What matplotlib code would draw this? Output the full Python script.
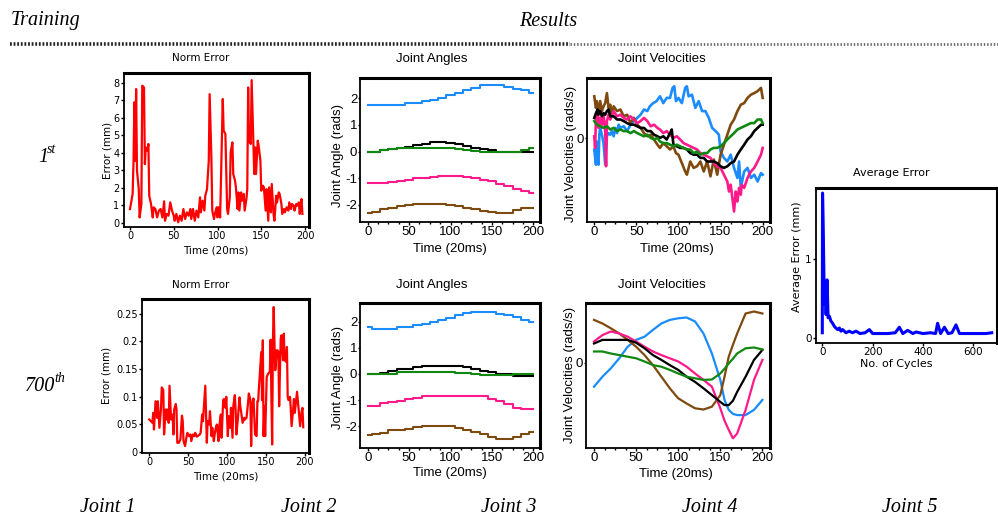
import matplotlib.pyplot as plt
from matplotlib.lines import Line2D
from matplotlib.ticker import MultipleLocator

plt.rcParams['font.family'] = 'Liberation Sans'
plt.rcParams['axes.unicode_minus'] = False

# ---------------- data ----------------
# 1st training cycle: norm error (mm) against time (20ms steps)
err1_t = [0, 3, 4, 5, 6, 7, 8, 10, 11, 13,
          14, 16, 17, 18, 20, 21, 22, 24, 26, 27,
          29, 31, 33, 35, 37, 39, 40, 42, 44, 46,
          48, 50, 51, 53, 55, 57, 59, 61, 63, 65,
          67, 69, 70, 72, 74, 76, 78, 80, 81, 83,
          85, 86, 88, 90, 91, 93, 94, 96, 97, 99,
          100, 101, 103, 105, 106, 107, 109, 111, 112, 114,
          115, 117, 118, 120, 121, 123, 124, 125, 127, 128,
          130, 131, 133, 134, 135, 136, 138, 139, 141, 142,
          143, 144, 146, 147, 149, 150, 152, 153, 155, 156,
          158, 159, 161, 162, 164, 165, 167, 168, 170, 171,
          173, 174, 176, 177, 179, 181, 182, 184, 185, 187,
          188, 190, 191, 193, 194, 195, 196, 197]
err1 = [0.78, 1.64, 3.45, 6.88, 3.54, 7.64, 2.97, 1.92, 0.30, 1.07,
        7.83, 7.73, 3.35, 4.30, 4.11, 4.50, 1.54, 1.07, 0.30, 0.88,
        0.78, 0.30, 0.69, 0.78, 0.30, 1.22, 0.11, 0.50, 0.40, 1.16,
        0.69, 0.40, 0.11, 0.50, 0.02, 0.40, 0.11, 0.78, 0.21, 0.59,
        0.40, 0.78, 0.21, 0.78, 0.11, 0.69, 0.30, 1.45, 0.59, 1.26,
        0.69, 1.54, 1.92, 3.54, 7.35, 3.73, 0.69, 0.21, 0.50, 0.88,
        0.30, 0.88, 0.30, 4.69, 7.07, 5.26, 5.07, 0.78, 0.50, 1.45,
        4.02, 4.59, 2.78, 2.40, 2.02, 0.78, 1.73, 0.69, 1.73, 1.26,
        1.64, 0.69, 1.35, 1.92, 7.73, 4.69, 4.50, 8.15, 4.69, 2.78,
        4.30, 2.78, 4.69, 4.40, 3.54, 1.83, 2.11, 2.02, 0.69, 1.92,
        0.11, 2.02, 0.59, 2.21, 0.50, 0.11, 1.54, 1.16, 1.73, 1.64,
        1.07, 0.50, 0.78, 0.59, 0.88, 0.69, 1.16, 0.78, 1.07, 0.97,
        0.69, 1.07, 0.97, 1.16, 0.50, 1.07, 1.35, 0.50]

# 700th training cycle: norm error (mm)
err2_t = [0, 2, 4, 5, 6, 8, 10, 11, 13, 15,
          16, 18, 19, 21, 22, 23, 25, 26, 28, 30,
          31, 32, 34, 35, 36, 38, 40, 42, 43, 44,
          46, 48, 49, 51, 53, 54, 56, 58, 59, 61,
          63, 65, 66, 68, 69, 72, 74, 75, 77, 78,
          80, 81, 83, 84, 86, 87, 89, 90, 92, 93,
          95, 96, 98, 99, 101, 102, 104, 105, 107, 108,
          110, 111, 112, 114, 116, 117, 118, 120, 122, 123,
          125, 127, 128, 130, 131, 132, 134, 135, 136, 138,
          139, 140, 141, 144, 145, 146, 147, 148, 149, 150,
          151, 153, 155, 156, 157, 158, 159, 160, 161, 162,
          164, 165, 166, 167, 169, 170, 172, 173, 174, 176,
          177, 178, 179, 181, 182, 183, 185, 186, 187, 188,
          190, 191, 192, 194, 196, 197, 198]
err2 = [0.059, 0.056, 0.053, 0.071, 0.041, 0.092, 0.062, 0.092, 0.044, 0.077,
        0.117, 0.112, 0.032, 0.077, 0.059, 0.077, 0.053, 0.120, 0.059, 0.068,
        0.032, 0.077, 0.087, 0.077, 0.017, 0.017, 0.023, 0.066, 0.056, 0.020,
        0.011, 0.029, 0.035, 0.029, 0.032, 0.020, 0.032, 0.029, 0.035, 0.028,
        0.030, 0.032, 0.035, 0.068, 0.056, 0.120, 0.017, 0.056, 0.050, 0.074,
        0.029, 0.044, 0.020, 0.032, 0.047, 0.050, 0.020, 0.047, 0.068, 0.026,
        0.094, 0.096, 0.080, 0.100, 0.029, 0.065, 0.044, 0.080, 0.026, 0.083,
        0.103, 0.077, 0.032, 0.062, 0.099, 0.083, 0.074, 0.053, 0.062, 0.059,
        0.062, 0.089, 0.106, 0.094, 0.011, 0.083, 0.097, 0.065, 0.032, 0.029,
        0.092, 0.092, 0.117, 0.181, 0.094, 0.202, 0.029, 0.083, 0.029, 0.083,
        0.136, 0.142, 0.145, 0.203, 0.100, 0.014, 0.202, 0.262, 0.196, 0.148,
        0.184, 0.184, 0.181, 0.083, 0.205, 0.211, 0.166, 0.214, 0.166, 0.163,
        0.190, 0.100, 0.094, 0.100, 0.077, 0.047, 0.077, 0.096, 0.071, 0.083,
        0.109, 0.094, 0.080, 0.047, 0.074, 0.080, 0.045]

# joint angles (rads), sampled every 10 steps
ang_t = [0, 10, 20, 30, 40, 50, 60, 70, 80, 90, 100,
         110, 120, 130, 140, 150, 160, 170, 180, 190, 200]
ang1_blue = [1.74, 1.74, 1.74, 1.74, 1.76, 1.82, 1.84, 1.88, 1.94, 2.02, 2.12,
             2.20, 2.30, 2.38, 2.48, 2.50, 2.50, 2.42, 2.36, 2.30, 2.20]
ang1_black = [0.0, 0.0, 0.05, 0.10, 0.12, 0.17, 0.24, 0.30, 0.35, 0.35, 0.33,
              0.30, 0.22, 0.15, 0.10, 0.05, 0.0, 0.0, 0.0, 0.0, 0.0]
ang1_green = [0.0, 0.0, 0.05, 0.08, 0.12, 0.12, 0.12, 0.12, 0.12, 0.12, 0.12,
              0.10, 0.05, 0.03, 0.0, 0.0, 0.0, 0.0, 0.0, 0.05, 0.12]
ang1_pink = [-1.19, -1.19, -1.19, -1.13, -1.10, -1.05, -1.0, -1.0, -0.95, -0.90, -0.90,
             -0.90, -0.95, -1.0, -1.05, -1.10, -1.20, -1.30, -1.40, -1.48, -1.56]
ang1_brown = [-2.30, -2.25, -2.15, -2.10, -2.05, -2.0, -1.97, -1.97, -1.97, -1.97, -2.0,
              -2.05, -2.10, -2.15, -2.22, -2.28, -2.30, -2.30, -2.20, -2.12, -2.10]

ang2_blue = [1.78, 1.71, 1.71, 1.72, 1.78, 1.80, 1.87, 1.90, 2.0, 2.08, 2.15,
             2.25, 2.32, 2.38, 2.38, 2.38, 2.30, 2.25, 2.18, 2.06, 2.0]
ang2_black = [0.0, 0.0, 0.05, 0.12, 0.20, 0.20, 0.25, 0.30, 0.30, 0.30, 0.30,
              0.30, 0.25, 0.20, 0.12, 0.06, 0.0, -0.02, -0.08, -0.08, -0.08]
ang2_green = [0.0, 0.0, 0.0, 0.0, 0.08, 0.08, 0.08, 0.08, 0.08, 0.08, 0.08,
              0.03, 0.02, 0.0, -0.05, -0.05, -0.05, -0.03, 0.0, 0.0, 0.0]
ang2_pink = [-1.21, -1.21, -1.12, -1.08, -1.03, -0.96, -0.90, -0.84, -0.83, -0.83, -0.83,
             -0.83, -0.83, -0.83, -0.86, -0.95, -1.05, -1.15, -1.30, -1.33, -1.35]
ang2_brown = [-2.33, -2.30, -2.25, -2.14, -2.13, -2.10, -2.02, -2.0, -2.0, -2.0, -2.0,
              -2.05, -2.14, -2.20, -2.30, -2.40, -2.48, -2.48, -2.40, -2.30, -2.20]

# joint velocities, 1st cycle (noisy)
vel1_blue_t = [0, 2, 3, 5, 6, 7, 9, 11, 13, 15, 17, 19, 21, 23, 25, 27, 29, 31, 35, 39,
               43, 47, 51, 55, 59, 63, 66, 70, 74, 78, 82, 86, 90, 93, 95, 97, 100, 104, 108, 110,
               112, 116, 120, 124, 128, 132, 136, 140, 144, 148, 150, 154, 158, 162, 166, 170, 172, 174, 178, 182,
               186, 190, 194, 198, 200]
vel1_blue = [-0.28, -0.66, -0.08, -0.66, 0.09, 0.26, 0.09, -0.12, -0.66, 0.05,
             0.13, 0.09, 0.18, 0.05, 0.26, 0.13, 0.34, 0.26, 0.30, 0.18,
             0.34, 0.43, 0.51, 0.59, 0.72, 0.68, 0.80, 0.88, 0.93, 1.05,
             0.88, 1.01, 1.01, 1.26, 1.30, 0.93, 1.01, 0.88, 1.26, 1.30,
             1.05, 1.09, 0.76, 0.93, 0.68, 0.68, 0.51, 0.26, 0.18, 0.09,
             -0.33, -0.49, -0.58, -0.41, -0.74, -0.99, -0.58, -1.24, -0.83, -0.74,
             -0.99, -0.91, -1.08, -0.87, -0.91]
vel1_brown_t = [0, 2, 3, 5, 7, 9, 11, 13, 15, 17, 19, 21, 23, 27, 31, 35, 39, 43, 47, 51,
                55, 59, 63, 67, 71, 75, 78, 82, 86, 90, 94, 97, 100, 104, 108, 110, 114, 118, 122, 126,
                130, 134, 138, 142, 146, 150, 154, 158, 162, 166, 170, 174, 178, 182, 186, 190, 194, 198, 200]
vel1_brown = [1.05, 0.76, 0.93, 0.63, 0.93, 0.68, 0.80, 0.88, 1.13, 0.76,
              0.84, 0.59, 0.80, 0.68, 0.72, 0.55, 0.59, 0.38, 0.51, 0.34,
              0.26, 0.13, 0.05, 0.09, -0.03, -0.16, -0.24, -0.12, -0.20, -0.28,
              -0.20, -0.37, -0.41, -0.62, -0.83, -0.91, -0.58, -0.74, -0.70, -0.58,
              -0.83, -0.58, -0.95, -0.53, -0.91, -0.41, -0.16, 0.09, 0.34, 0.47,
              0.68, 0.84, 0.88, 1.01, 1.09, 1.13, 1.18, 1.26, 1.01]
vel1_black_t = [0, 2, 4, 5, 7, 9, 11, 13, 15, 17, 19, 23, 27, 31, 35, 39, 43, 47, 51, 55,
                59, 63, 67, 71, 75, 78, 82, 86, 90, 92, 94, 98, 102, 106, 110, 114, 118, 122, 126, 130,
                134, 138, 142, 146, 150, 154, 158, 162, 166, 170, 174, 178, 182, 186, 190, 194, 198, 200]
vel1_black = [0.51, 0.63, 0.72, 0.59, 0.68, 0.55, 0.63, 0.59, 0.68, 0.72,
              0.55, 0.55, 0.47, 0.47, 0.43, 0.38, 0.34, 0.34, 0.30, 0.26,
              0.26, 0.18, 0.18, 0.09, 0.05, 0.01, 0.05, -0.03, 0.13, 0.22,
              -0.16, -0.20, -0.24, -0.24, -0.28, -0.37, -0.41, -0.41, -0.49, -0.49,
              -0.58, -0.58, -0.58, -0.62, -0.70, -0.74, -0.70, -0.62, -0.58, -0.41,
              -0.28, -0.16, -0.03, 0.05, 0.18, 0.26, 0.34, 0.34]
vel1_green_t = [0, 3, 7, 11, 15, 19, 23, 27, 31, 35, 39, 43, 47, 51, 55, 59, 63, 67, 71, 75,
                78, 82, 86, 90, 94, 98, 102, 106, 110, 114, 118, 122, 126, 130, 134, 138, 142, 146, 150, 154,
                158, 162, 166, 170, 174, 178, 182, 186, 190, 194, 198, 200]
vel1_green = [0.43, 0.34, 0.30, 0.26, 0.30, 0.22, 0.26, 0.18, 0.22, 0.18,
              0.18, 0.13, 0.18, 0.13, 0.09, 0.05, 0.09, 0.01, -0.03, 0.01,
              -0.08, -0.12, -0.12, -0.16, -0.20, -0.16, -0.20, -0.24, -0.28, -0.28,
              -0.37, -0.33, -0.41, -0.37, -0.37, -0.28, -0.24, -0.24, -0.20, -0.12,
              -0.03, 0.05, 0.13, 0.22, 0.26, 0.30, 0.34, 0.38, 0.38, 0.47,
              0.47, 0.38]
vel1_pink_t = [0, 1, 2, 4, 5, 7, 9, 11, 13, 14, 15, 17, 19, 23, 27, 31, 35, 39, 43, 47,
               51, 55, 59, 63, 67, 71, 75, 78, 82, 86, 90, 94, 98, 102, 106, 110, 114, 118, 122, 126,
               130, 134, 138, 142, 146, 150, 154, 158, 160, 162, 164, 166, 168, 170, 172, 174, 175, 178, 182, 186,
               190, 194, 198, 200]
vel1_pink = [0.05, -0.24, 0.51, 0.68, 0.26, 0.51, 0.34, 0.59, 0.18, -0.70,
             0.43, 0.59, 0.47, 0.68, 0.55, 0.59, 0.51, 0.47, 0.55, 0.47,
             0.38, 0.43, 0.51, 0.43, 0.30, 0.34, 0.26, 0.22, 0.13, 0.18,
             0.09, 0.01, 0.05, -0.03, -0.12, -0.16, -0.20, -0.24, -0.28, -0.37,
             -0.41, -0.45, -0.49, -0.62, -0.70, -0.74, -0.91, -1.08, -1.33, -1.16,
             -1.49, -1.83, -1.33, -1.58, -1.24, -1.41, -1.16, -1.24, -0.99, -0.83,
             -0.74, -0.58, -0.41, -0.24]

# joint velocities, 700th cycle (smooth)
vel2_t = [0, 10, 20, 30, 40, 50, 60, 70, 80, 90, 100, 110,
          120, 130, 140, 150, 155, 160, 165, 170, 180, 190, 200]
vel2_blue = [-0.60, -0.35, -0.14, 0.11, 0.40, 0.57, 0.65, 0.82, 0.98, 1.07, 1.11, 1.13,
             1.03, 0.73, 0.23, -0.43, -0.93, -1.18, -1.28, -1.31, -1.31, -1.18, -0.93]
vel2_brown = [1.07, 0.98, 0.86, 0.73, 0.57, 0.40, 0.19, -0.06, -0.35, -0.64, -0.89, -1.02,
              -1.14, -1.17, -1.10, -0.81, -0.35, 0.15, 0.45, 0.73, 1.23, 1.28, 1.23]
vel2_black = [0.48, 0.57, 0.57, 0.57, 0.57, 0.50, 0.36, 0.19, 0.07, -0.06, -0.18, -0.35,
              -0.48, -0.64, -0.81, -0.98, -1.06, -1.06, -0.95, -0.73, -0.35, 0.07, 0.32]
vel2_pink = [0.53, 0.69, 0.78, 0.73, 0.65, 0.53, 0.40, 0.28, 0.19, 0.11, 0.03, -0.10,
             -0.27, -0.43, -0.60, -1.14, -1.45, -1.68, -1.89, -1.77, -1.18, -0.43, 0.07]
vel2_green = [0.28, 0.28, 0.23, 0.19, 0.15, 0.11, 0.03, -0.06, -0.10, -0.18, -0.27, -0.35,
              -0.39, -0.43, -0.42, -0.27, -0.15, -0.02, 0.10, 0.23, 0.36, 0.38, 0.33]

# average error (mm) over training cycles
avg_cycles = [0, 1, 4, 8, 12, 15, 19, 23, 28, 34,
              41, 48, 54, 61, 68, 74, 81, 94, 107, 120,
              134, 150, 170, 187, 200, 230, 260, 290, 306, 320,
              339, 360, 372, 400, 430, 450, 458, 470, 485, 500,
              515, 531, 545, 570, 600, 630, 650, 673]
avg_err = [0.07, 1.84, 1.35, 0.43, 0.72, 0.30, 0.74, 0.26, 0.28, 0.22,
           0.19, 0.15, 0.13, 0.11, 0.13, 0.09, 0.11, 0.07, 0.09, 0.07,
           0.09, 0.06, 0.07, 0.11, 0.06, 0.06, 0.06, 0.07, 0.14, 0.06,
           0.10, 0.06, 0.08, 0.06, 0.07, 0.06, 0.19, 0.06, 0.14, 0.06,
           0.07, 0.17, 0.06, 0.06, 0.06, 0.06, 0.06, 0.07]

time_ticks = [0, 50, 100, 150, 200]
bottom_labels = ['Joint 1', 'Joint 2', 'Joint 3', 'Joint 4', 'Joint 5']

C_BLUE = '#1a8cff'
C_BLACK = '#000000'
C_GREEN = '#118811'
C_PINK = '#ff1a8c'
C_BROWN = '#7f4a0f'
C_RED = '#ff0000'

W, H = 998, 517
fig = plt.figure(figsize=(W / 100, H / 100), dpi=100)


def px_axes(x0, y0, x1, y1):
    # place an axes from pixel corners of the reference
    return fig.add_axes([x0 / W, 1 - y1 / H, (x1 - x0) / W, (y1 - y0) / H])


def frame(ax, small):
    for side in ['left', 'bottom']:
        ax.spines[side].set_linewidth(1.3)
    for side in ['top', 'right']:
        ax.spines[side].set_linewidth(2.2)
    fam = 'DejaVu Sans' if small else 'Liberation Sans'
    size = 7 if small else 9.5
    ax.tick_params(which='both', direction='out', length=2, width=1,
                   pad=1, labelsize=size, labelfontfamily=fam)
    ax.tick_params(which='minor', length=1.5)
    if not small:
        ax.tick_params(axis='y', length=1.5, pad=0.5)


def fig_text(x, y, s, **kw):
    fig.text(x / W, 1 - y / H, s, ha='center', va='center', **kw)


small_font = dict(family='DejaVu Sans', fontsize=7.5)
avg_font = dict(family='DejaVu Sans', fontsize=8)
big_font = dict(family='Liberation Sans', fontsize=9.5)
serif = dict(family='Liberation Serif', style='italic', fontsize=14.5)
sup = dict(family='Liberation Serif', style='italic', fontsize=10)

# ---------------- norm error panels ----------------
ax = px_axes(123.7, 73.3, 308.7, 226.7)
ax.plot(err1_t, err1, color=C_RED, lw=1.6)
ax.set_xlim(-7.2, 204.2)
ax.set_ylim(-0.23, 8.54)
ax.set_xticks(time_ticks)
ax.set_yticks(range(0, 9))
frame(ax, True)
ax.set_ylabel('Error (mm)', va='center', **small_font)
ax.yaxis.set_label_coords(-0.09, 0.5)
ax.set_xlabel('Time (20ms)', va='center', **small_font)
ax.xaxis.set_label_coords(0.5, -0.156)
fig_text(200.7, 58.3, 'Norm Error', **small_font)

ax = px_axes(142, 299.3, 308.7, 453.3)
ax.plot(err2_t, err2, color=C_RED, lw=1.6)
ax.set_xlim(-9.4, 205)
ax.set_ylim(-0.002, 0.276)
ax.set_xticks(time_ticks)
ax.set_yticks([0, 0.05, 0.1, 0.15, 0.2, 0.25], ['0', '0.05', '0.1', '0.15', '0.2', '0.25'])
frame(ax, True)
ax.set_ylabel('Error (mm)', va='center', **small_font)
ax.yaxis.set_label_coords(-0.21, 0.508)
ax.set_xlabel('Time (20ms)', va='center', **small_font)
ax.xaxis.set_label_coords(0.5, -0.152)
fig_text(200.7, 285, 'Norm Error', **small_font)

# ---------------- joint angle panels ----------------
for box, ylim, series, ycen, xlab_y, title_y in [
        ((360, 77.7, 540, 221.7), (-2.63, 2.77),
         [ang1_blue, ang1_black, ang1_green, ang1_pink, ang1_brown], 0.463, -0.192, 59.3),
        ((360, 303.3, 540, 448.3), (-2.84, 2.70),
         [ang2_blue, ang2_black, ang2_green, ang2_pink, ang2_brown], 0.488, -0.172, 285)]:
    ax = px_axes(*box)
    for vals, col in zip(series, [C_BLUE, C_BLACK, C_GREEN, C_PINK, C_BROWN]):
        ax.plot(ang_t, vals, color=col, lw=1.5, drawstyle='steps-mid')
    ax.set_xlim(-9.3, 208)
    ax.set_ylim(*ylim)
    ax.set_xticks(time_ticks)
    ax.xaxis.set_minor_locator(MultipleLocator(12.5))
    ax.set_yticks([-2, -1, 0, 1, 2])
    frame(ax, False)
    ax.set_ylabel('Joint Angle (rads)', va='center', **big_font)
    ax.yaxis.set_label_coords(-0.125, ycen)
    ax.set_xlabel('Time (20ms)', va='center', **big_font)
    ax.xaxis.set_label_coords(0.5, xlab_y)
    fig_text(431.7, title_y, 'Joint Angles', **big_font)

# ---------------- joint velocity panels ----------------
ax = px_axes(586.7, 77.7, 770, 221.7)
ax.plot(vel1_blue_t, vel1_blue, color=C_BLUE, lw=1.9)
ax.plot(vel1_brown_t, vel1_brown, color=C_BROWN, lw=1.9)
ax.plot(vel1_pink_t, vel1_pink, color=C_PINK, lw=1.9)
ax.plot(vel1_black_t, vel1_black, color=C_BLACK, lw=1.9)
ax.plot(vel1_green_t, vel1_green, color=C_GREEN, lw=1.9)
ax.set_xlim(-9, 208.7)
ax.set_ylim(-2.085, 1.515)
vel_axes = [(ax, 0.47, -0.192, 59.3)]

ax = px_axes(586, 303.3, 770, 448.3)
for vals, col in zip([vel2_blue, vel2_brown, vel2_pink, vel2_black, vel2_green],
                     [C_BLUE, C_BROWN, C_PINK, C_BLACK, C_GREEN]):
    ax.plot(vel2_t, vals, color=col, lw=1.6)
ax.set_xlim(-9.5, 209)
ax.set_ylim(-2.14, 1.485)
vel_axes.append((ax, 0.505, -0.177, 285))

for ax, ycen, xlab_y, title_y in vel_axes:
    ax.set_xticks(time_ticks)
    ax.xaxis.set_minor_locator(MultipleLocator(12.5))
    ax.set_yticks([0])
    frame(ax, False)
    ax.set_ylabel('Joint Velocities (rads/s)', va='center', **big_font)
    ax.yaxis.set_label_coords(-0.087, ycen)
    ax.set_xlabel('Time (20ms)', va='center', **big_font)
    ax.xaxis.set_label_coords(0.49, xlab_y)
    fig_text(661.7, title_y, 'Joint Velocities', **big_font)

# ---------------- average error panel ----------------
ax = px_axes(816, 188.3, 996.5, 342.7)
ax.plot(avg_cycles, avg_err, color='#0000ff', lw=2.2)
ax.set_xlim(-25, 692)
ax.set_ylim(-0.056, 1.9)
ax.set_xticks([0, 200, 400, 600])
ax.set_yticks([0, 1])
frame(ax, True)
ax.tick_params(labelsize=7.5)
ax.set_ylabel('Average Error (mm)', va='center', **avg_font)
ax.yaxis.set_label_coords(-0.104, 0.557)
ax.set_xlabel('No. of Cycles', va='center', **avg_font)
ax.xaxis.set_label_coords(0.447, -0.138)
fig_text(891.7, 172.7, 'Average Error', **avg_font)

# ---------------- header, row and column labels ----------------
fig_text(46, 21, 'Training', **serif)
fig_text(548, 21, 'Results', **serif)
yl = 1 - 44 / H
fig.add_artist(Line2D([10 / W, 570 / W], [yl, yl], transform=fig.transFigure,
                      color='#222222', lw=2.6, linestyle=(0, (0.5, 0.5))))
fig.add_artist(Line2D([570 / W, 1.0], [yl, yl], transform=fig.transFigure,
                      color='#666666', lw=2.0, linestyle=(0, (0.5, 0.7))))

fig.text(38 / W, 1 - 162 / H, '1', ha='left', va='baseline', **serif)
fig.text(47 / W, 1 - 153 / H, 'st', ha='left', va='baseline', **sup)
fig.text(25 / W, 1 - 391 / H, '700', ha='left', va='baseline', **serif)
fig.text(54.5 / W, 1 - 382 / H, 'th', ha='left', va='baseline', **sup)

for i, lab in enumerate(bottom_labels):
    fig_text(108 + 200.5 * i, 508, lab, **serif)

fig.savefig('out.png', dpi=100)
